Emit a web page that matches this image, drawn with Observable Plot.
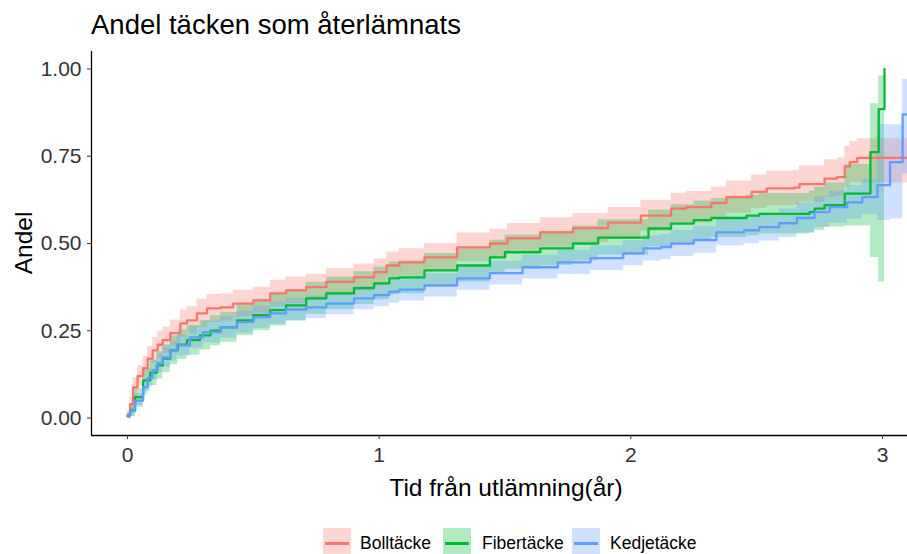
<!DOCTYPE html>
<html><head><meta charset="utf-8">
<script src="https://cdn.jsdelivr.net/npm/d3@7"></script>
<script src="https://cdn.jsdelivr.net/npm/@observablehq/plot@0.6"></script>
<style>
body{margin:0;background:#fff;}
#wrap{position:relative;width:907px;height:554px;overflow:hidden;font-family:"Liberation Sans",Arial,sans-serif;color:#000;background:#fff}
#title{position:absolute;left:91px;top:11px;font-size:27.5px;white-space:nowrap;line-height:1}
#chart{position:absolute;left:0;top:51px}
#ylab{position:absolute;left:24px;top:243px;font-size:24.5px;transform:translate(-50%,-50%) rotate(-90deg);white-space:nowrap;line-height:1}
#xlab{position:absolute;left:506px;top:476px;font-size:24.5px;transform:translateX(-50%);white-space:nowrap;line-height:1}
#legend{position:absolute;left:0;top:528px;width:907px;height:30px}
.key{position:absolute;top:0;width:28px;height:28px}
.key .ln{position:absolute;left:2px;right:2px;top:14px;height:2.5px}
.lab{position:absolute;top:7px;font-size:17.5px;white-space:nowrap;line-height:1}
</style></head><body>
<div id="wrap">
<div id="title">Andel täcken som återlämnats</div>
<div id="chart"></div>
<div id="ylab">Andel</div>
<div id="xlab">Tid från utlämning(år)</div>
<div id="legend"></div>
</div>
<script>
const seriesNames = ["Bolltäcke", "Fibertäcke", "Kedjetäcke"];
const seriesColors = ["#F8766D", "#00BA38", "#619CFF"];

// Bolltäcke
const bollT  = [0,0.01,0.022,0.04,0.062,0.08,0.10,0.12,0.14,0.17,0.21,0.236,0.276,0.316,0.37,0.42,0.50,0.567,0.63,0.71,0.79,0.90,0.98,1.03,1.08,1.18,1.31,1.44,1.51,1.64,1.77,1.91,2.04,2.16,2.22,2.32,2.38,2.48,2.54,2.65,2.67,2.77,2.82,2.85,2.87,2.90,3.20];
const bollV  = [0.01,0.04,0.088,0.12,0.143,0.17,0.194,0.21,0.223,0.243,0.271,0.28,0.30,0.314,0.317,0.328,0.337,0.357,0.366,0.375,0.39,0.403,0.418,0.437,0.446,0.46,0.489,0.50,0.515,0.532,0.544,0.56,0.58,0.60,0.604,0.616,0.633,0.648,0.658,0.66,0.67,0.686,0.69,0.72,0.733,0.745,0.745];
const bollLo = [0.0,0.02,0.06,0.09,0.11,0.135,0.157,0.172,0.185,0.205,0.232,0.241,0.26,0.274,0.278,0.29,0.299,0.319,0.328,0.338,0.352,0.365,0.38,0.398,0.407,0.42,0.448,0.459,0.473,0.49,0.502,0.517,0.536,0.556,0.559,0.57,0.587,0.6,0.608,0.61,0.618,0.632,0.635,0.662,0.674,0.673,0.673];
const bollHi = [0.02,0.06,0.116,0.15,0.176,0.205,0.231,0.248,0.261,0.281,0.31,0.319,0.34,0.354,0.356,0.366,0.375,0.395,0.404,0.412,0.428,0.441,0.456,0.476,0.485,0.5,0.53,0.541,0.557,0.574,0.586,0.603,0.624,0.644,0.649,0.662,0.679,0.696,0.708,0.71,0.722,0.74,0.745,0.778,0.792,0.80,0.80];

// Fibertäcke
const fibT  = [0,0.01,0.03,0.062,0.09,0.117,0.14,0.17,0.2,0.236,0.288,0.33,0.37,0.435,0.50,0.567,0.63,0.71,0.79,0.90,0.98,1.04,1.08,1.18,1.31,1.44,1.50,1.64,1.77,1.87,1.97,2.07,2.16,2.25,2.32,2.46,2.51,2.71,2.73,2.77,2.85,2.952,2.985,3.008];
const fibV  = [0.005,0.022,0.06,0.108,0.13,0.151,0.17,0.194,0.21,0.223,0.237,0.25,0.26,0.28,0.295,0.309,0.323,0.343,0.357,0.372,0.386,0.40,0.403,0.423,0.437,0.46,0.475,0.486,0.50,0.517,0.517,0.543,0.557,0.567,0.573,0.58,0.585,0.59,0.60,0.61,0.643,0.762,0.885,1.0];
const fibLo = [0,0.005,0.035,0.075,0.093,0.112,0.13,0.153,0.168,0.18,0.195,0.207,0.217,0.236,0.25,0.264,0.278,0.297,0.311,0.325,0.339,0.353,0.356,0.375,0.389,0.411,0.426,0.437,0.45,0.466,0.466,0.49,0.503,0.512,0.517,0.522,0.527,0.53,0.538,0.547,0.55,0.46,0.39,1.0];
const fibHi = [0.01,0.04,0.085,0.14,0.167,0.19,0.21,0.235,0.252,0.266,0.279,0.293,0.303,0.324,0.34,0.354,0.368,0.389,0.403,0.419,0.433,0.447,0.45,0.471,0.485,0.509,0.524,0.535,0.55,0.568,0.568,0.596,0.611,0.622,0.629,0.638,0.643,0.65,0.662,0.673,0.726,0.90,0.98,1.0];

// Kedjetäcke
const kedT  = [0,0.01,0.03,0.062,0.08,0.10,0.12,0.14,0.17,0.196,0.248,0.30,0.37,0.435,0.50,0.567,0.63,0.71,0.79,0.90,0.98,1.04,1.08,1.18,1.31,1.44,1.57,1.71,1.84,1.97,2.05,2.12,2.16,2.25,2.34,2.45,2.51,2.59,2.66,2.73,2.79,2.86,2.92,2.98,3.03,3.08,3.20];
const kedV  = [0.005,0.02,0.05,0.088,0.115,0.137,0.157,0.174,0.192,0.208,0.231,0.246,0.26,0.275,0.289,0.30,0.311,0.317,0.328,0.343,0.352,0.362,0.368,0.38,0.40,0.415,0.432,0.446,0.458,0.472,0.486,0.49,0.50,0.51,0.532,0.538,0.547,0.558,0.573,0.59,0.604,0.618,0.633,0.667,0.733,0.87,0.87];
const kedLo = [0,0.005,0.03,0.065,0.09,0.11,0.129,0.145,0.163,0.178,0.2,0.215,0.229,0.243,0.257,0.268,0.279,0.285,0.296,0.31,0.319,0.329,0.335,0.347,0.366,0.381,0.398,0.411,0.423,0.436,0.45,0.454,0.463,0.472,0.493,0.499,0.507,0.517,0.53,0.546,0.558,0.57,0.583,0.566,0.57,0.70,0.70];
const kedHi = [0.012,0.035,0.07,0.11,0.14,0.164,0.185,0.203,0.221,0.238,0.262,0.277,0.291,0.307,0.321,0.332,0.343,0.349,0.36,0.376,0.385,0.395,0.401,0.413,0.434,0.449,0.466,0.481,0.493,0.508,0.522,0.526,0.537,0.548,0.571,0.577,0.587,0.599,0.616,0.634,0.65,0.666,0.683,0.84,0.84,0.97,0.97];

const xTicks = [0, 1, 2, 3];
const yTicks = [0, 0.25, 0.5, 0.75, 1];
const xDomain = [-0.1431, 3.0994];
const yDomain = [-0.05, 1.05];

const raw = [
  [bollT, bollV, bollLo, bollHi],
  [fibT, fibV, fibLo, fibHi],
  [kedT, kedV, kedLo, kedHi]
];
const series = raw.map(([T, V, L, H], i) =>
  T.map((t, j) => ({t, v: V[j], lo: L[j], hi: H[j], name: seriesNames[i]})));

const bands = series.map((rows, i) => Plot.areaY(rows, {
  x: "t", y1: "lo", y2: "hi", fill: seriesColors[i], fillOpacity: 0.3,
  curve: "step-after", clip: true
}));
const lines = series.map((rows, i) => Plot.lineY(rows, {
  x: "t", y: "v", stroke: seriesColors[i], strokeWidth: 2.3,
  curve: "step-after", clip: true
}));

const plot = Plot.plot({
  width: 907, height: 459,
  marginLeft: 91, marginRight: 0, marginTop: 0, marginBottom: 75,
  x: {domain: xDomain},
  y: {domain: yDomain},
  style: {fontFamily: "'Liberation Sans', Arial, sans-serif", background: "transparent", overflow: "visible"},
  marks: [
    ...bands,
    ...lines,
    Plot.ruleX([xDomain[0]], {stroke: "#000", strokeWidth: 1.3}),
    Plot.ruleY([yDomain[0]], {stroke: "#000", strokeWidth: 1.3}),
    Plot.axisY({ticks: yTicks, tickFormat: d3.format(".2f"), tickSize: 4, tickPadding: 6, fontSize: 21, color: "#333", label: null}),
    Plot.axisX({ticks: xTicks, tickFormat: d3.format("d"), tickSize: 4, tickPadding: 8, fontSize: 21, color: "#333", label: null})
  ]
});
document.getElementById("chart").appendChild(plot);

// legend
const legend = document.getElementById("legend");
const keyX = [323, 443, 572];
const labX = [360, 482, 610];
seriesNames.forEach((n, i) => {
  const k = document.createElement("div");
  k.className = "key";
  k.style.left = keyX[i] + "px";
  k.style.background = d3.color(seriesColors[i]).copy({opacity: 0.3}).formatRgb();
  const ln = document.createElement("div");
  ln.className = "ln";
  ln.style.background = seriesColors[i];
  k.appendChild(ln);
  legend.appendChild(k);
  const l = document.createElement("div");
  l.className = "lab";
  l.style.left = labX[i] + "px";
  l.textContent = n;
  legend.appendChild(l);
});
</script>
</body></html>
